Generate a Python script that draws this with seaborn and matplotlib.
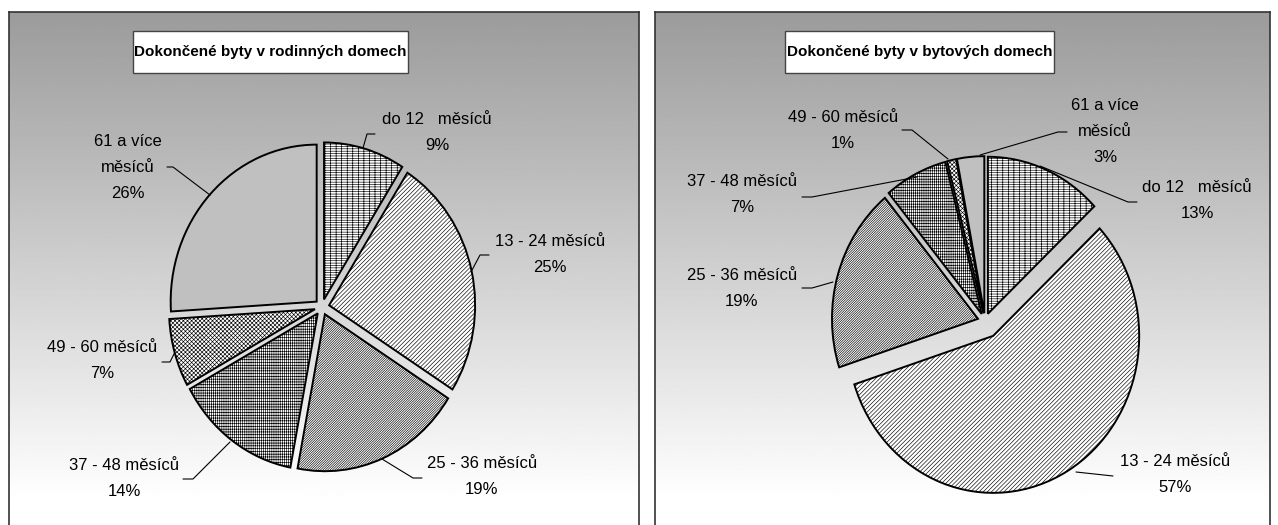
import numpy as np
import matplotlib
matplotlib.use("Agg")
import matplotlib.pyplot as plt
from matplotlib import font_manager
from matplotlib.transforms import Affine2D
from matplotlib.patches import Rectangle
from matplotlib.lines import Line2D
import seaborn as sns

# --- data -------------------------------------------------------------
categories = ["do 12   měsíců", "13 - 24 měsíců", "25 - 36 měsíců",
              "37 - 48 měsíců", "49 - 60 měsíců", "61 a více\nměsíců"]
rodinne_domy = [9, 25, 19, 14, 7, 26]      # % of completed flats, family houses
bytove_domy = [13, 57, 19, 7, 1, 3]        # % of completed flats, apartment blocks
titles = ["Dokončené byty v rodinných domech",
          "Dokončené byty v bytových domech"]

# --- style ------------------------------------------------------------
sns.set_theme(style="white")
plt.rcParams["font.family"] = ["Liberation Sans", "DejaVu Sans"]
plt.rcParams["hatch.linewidth"] = 0.45

# condensed bold face for the chart titles, if available
try:
    font_manager.findfont(font_manager.FontProperties(family="Liberation Sans Narrow"),
                          fallback_to_default=False)
    title_font = dict(family=["Liberation Sans Narrow", "Liberation Sans"], fontsize=13.5)
except ValueError:
    title_font = dict(family=["Liberation Sans", "DejaVu Sans"], fontsize=11)

faces = ["white", "white", "white", "white", "white", "#c0c0c0"]
hatches = ["-" * 7 + "|" * 3, "/" * 8, "/" * 14,
           "|" * 8 + "-" * 6, "x" * 8, ""]

W, H = 1278, 525
fig = plt.figure(figsize=(W / 100, H / 100), dpi=100)
fig.patch.set_facecolor("white")
# pixel coordinates, origin at top-left
px = Affine2D().scale(1 / W, -1 / H).translate(0, 1) + fig.transFigure

RX, RY = 146, 157          # pie radii in pixels (slightly oval)
LINE_STEP = 26             # label line spacing in pixels

panels = [
    dict(values=rodinne_domy, title=titles[0],
         frame=(9, 12, 639, 530), center=(322, 307),
         explode=[0.05, 0.05, 0.05, 0.05, 0.05, 0.05],
         title_box=(133, 31, 408, 73),
         labels=[(437, 120, [(363, 148), (367, 134), (375, 134)]),
                 (550, 242, [(471, 272), (480, 255), (489, 255)]),
                 (482, 463, [(382, 459), (413, 478), (422, 478)]),
                 (124, 465, [(230, 442), (193, 479), (183, 479)]),
                 (102, 348, [(175, 352), (170, 362), (162, 362)]),
                 (128, 142, [(210, 195), (173, 167), (167, 167)])]),
    dict(values=bytove_domy, title=titles[1],
         frame=(655, 12, 1270, 530), center=(985, 321),
         explode=[0.05, 0.11, 0.05, 0.05, 0.05, 0.05],
         title_box=(785, 31, 1054, 73),
         labels=[(1197, 188, [(1040, 166), (1128, 202), (1137, 202)]),
                 (1175, 462, [(1076, 472), (1113, 476)]),
                 (742, 275, [(833, 282), (812, 288), (802, 288)]),
                 (742, 182, [(917, 177), (812, 197), (802, 197)]),
                 (843, 117, [(948, 159), (912, 130), (902, 130)]),
                 (1105, 105, [(980, 155), (1058, 132), (1067, 132)])]),
]


def shade(y):
    """Grey-to-white vertical gradient of the plot background."""
    return np.clip(155 + (y - 12) * 100 / 488, 0, 255) / 255


for p in panels:
    x0, y0, x1, y1 = p["frame"]
    cx, cy = p["center"]
    ax = fig.add_axes([x0 / W, 1 - y1 / H, (x1 - x0) / W, (y1 - y0) / H])

    wedges, _ = ax.pie(p["values"], startangle=90, counterclock=False,
                       explode=p["explode"], colors=faces,
                       wedgeprops=dict(edgecolor="black", linewidth=1.4))
    for w, h in zip(wedges, hatches):
        if h:
            w.set_hatch(h)
        w.set_zorder(2)

    xlim = ((x0 - cx) / RX, (x1 - cx) / RX)
    ylim = ((cy - y1) / RY, (cy - y0) / RY)
    ax.set_aspect("auto")
    ax.set_xlim(*xlim)
    ax.set_ylim(*ylim)

    ys = np.linspace(y0, y1, 400)
    ax.imshow(shade(ys)[:, None], cmap="gray", vmin=0, vmax=1,
              extent=(xlim[0], xlim[1], ylim[0], ylim[1]),
              aspect="auto", origin="upper", zorder=0)

    ax.set_frame_on(True)
    for s in ax.spines.values():
        s.set_color("#333333")
        s.set_linewidth(1.2)
    ax.set_xticks([])
    ax.set_yticks([])

    # title box
    bx0, by0, bx1, by1 = p["title_box"]
    fig.add_artist(Rectangle((bx0, by1), bx1 - bx0, by0 - by1,
                             transform=px, facecolor="white",
                             edgecolor="#444444", linewidth=1.0, zorder=5))
    fig.text((bx0 + bx1) / 2, (by0 + by1) / 2, p["title"], transform=px,
             ha="center", va="center", fontweight="bold",
             color="black", zorder=6, **title_font)

    # category labels with leader lines
    for name, val, (tx, ty, leader) in zip(categories, p["values"], p["labels"]):
        lines = name.split("\n") + [f"{val}%"]
        for i, line in enumerate(lines):
            fig.text(tx, ty + i * LINE_STEP, line, transform=px,
                     ha="center", va="center", fontsize=12, color="black",
                     zorder=6)
        lx, ly = zip(*leader)
        fig.add_artist(Line2D(lx, ly, transform=px, color="black",
                              linewidth=0.8, zorder=6))

fig.savefig("out.png", dpi=100)
